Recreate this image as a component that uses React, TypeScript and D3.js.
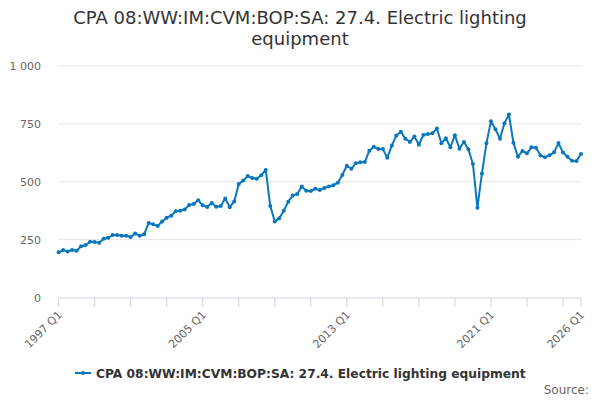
import React from "react";
import * as d3 from "d3";

const TITLE_LINES = ["CPA 08:WW:IM:CVM:BOP:SA: 27.4. Electric lighting", "equipment"];
const SERIES_NAME = "CPA 08:WW:IM:CVM:BOP:SA: 27.4. Electric lighting equipment";
const START_YEAR = 1997;
const VALUES: number[] = [
  195, 205, 199, 205, 202, 221, 227, 241, 240, 237, 254, 258, 270, 270, 267, 267,
  261, 276, 267, 273, 322, 316, 309, 328, 345, 353, 373, 375, 380, 400, 404, 420,
  398, 391, 408, 392, 395, 428, 390, 415, 490, 505, 525, 516, 513, 528, 551, 395,
  328, 342, 375, 414, 441, 447, 479, 461, 460, 470, 464, 473, 480, 485, 496, 529,
  569, 556, 580, 584, 585, 634, 651, 641, 641, 604, 657, 700, 716, 686, 672, 695,
  660, 702, 706, 709, 730, 666, 688, 649, 701, 643, 672, 640, 577, 388, 536, 666,
  761, 727, 686, 753, 790, 668, 608, 633, 623, 649, 647, 613, 606, 614, 627, 667,
  626, 608, 591, 590, 620,
];
const Y_TICKS = [0, 250, 500, 750, 1000];
const LABEL_EVERY = 32;
const TICK_EVERY = 8;

const W = 600;
const H = 400;
const COLOR = "#0a77bd";
const FONT = "'DejaVu Sans', sans-serif";

function qLabel(i: number) {
  const y = START_YEAR + Math.floor(i / 4);
  return `${y} Q${(i % 4) + 1}`;
}
function fmt(v: number) {
  return d3.format(",")(v).replace(/,/g, " ");
}

export default function App() {
  const n = VALUES.length;
  const x = d3.scaleLinear().domain([0, n - 1]).range([58.6, 581]);
  const y = d3.scaleLinear().domain([0, 1000]).range([297.5, 66]);
  const line = d3
    .line<number>()
    .x((_, i) => x(i))
    .y((d) => y(d));

  const tickIdx: number[] = [];
  for (let i = 0; i < n; i += TICK_EVERY) tickIdx.push(i);
  if (tickIdx[tickIdx.length - 1] !== n - 1) tickIdx.push(n - 1);
  const labelIdx: number[] = [];
  for (let i = 0; i < n; i += LABEL_EVERY) labelIdx.push(i);
  if (labelIdx[labelIdx.length - 1] !== n - 1) labelIdx.push(n - 1);

  return (
    <svg
      width={W}
      height={H}
      style={{ position: "absolute", left: 0, top: 0, fontFamily: FONT, background: "#fff" }}
    >
      {TITLE_LINES.map((t, i) => (
        <text key={i} x={W / 2} y={24 + i * 21} textAnchor="middle" fontSize={18} fill="#333">
          {t}
        </text>
      ))}
      {Y_TICKS.map((t) => (
        <g key={t}>
          {t > 0 && (
            <line x1={58} x2={582} y1={y(t)} y2={y(t)} stroke="#e6e6e6" strokeWidth={1} />
          )}
          <text x={41} y={y(t) + 4} textAnchor="end" fontSize={11} fill="#666">
            {fmt(t)}
          </text>
        </g>
      ))}
      <line x1={57.5} x2={582} y1={298} y2={298} stroke="#ccd6eb" strokeWidth={1} />
      {tickIdx.map((i) => (
        <line key={i} x1={x(i)} x2={x(i)} y1={298} y2={307} stroke="#ccd6eb" strokeWidth={1} />
      ))}
      {labelIdx.map((i) => (
        <text
          key={i}
          transform={`translate(${x(i) + 4},${315.5}) rotate(-45)`}
          textAnchor="end"
          fontSize={11}
          fill="#666"
        >
          {qLabel(i)}
        </text>
      ))}
      <path d={line(VALUES) ?? ""} fill="none" stroke={COLOR} strokeWidth={2} strokeLinejoin="round" />
      {VALUES.map((v, i) => (
        <circle key={i} cx={x(i)} cy={y(v)} r={2} fill={COLOR} />
      ))}
      <g>
        <line x1={75} x2={91} y1={373} y2={373} stroke={COLOR} strokeWidth={2} />
        <circle cx={83} cy={373} r={2} fill={COLOR} />
        <text x={96} y={377.5} fontSize={12.25} fontWeight="bold" fill="#333">
          {SERIES_NAME}
        </text>
      </g>
      <text x={589} y={394} textAnchor="end" fontSize={12} fill="#666">
        Source:
      </text>
    </svg>
  );
}
